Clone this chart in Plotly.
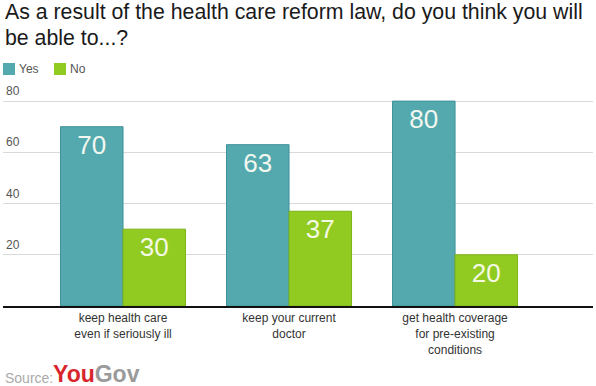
import plotly.graph_objects as go

categories = ["keep health care<br>even if seriously ill",
              "keep your current<br>doctor",
              "get health coverage<br>for pre-existing<br>conditions"]
yes_values = [70, 63, 80]
no_values = [30, 37, 20]
series_names = ["Yes", "No"]
y_ticks = [20, 40, 60, 80]
title_lines = ["As a result of the health care reform law, do you think you will",
               "be able to...?"]

W, H = 596, 386
ML, MR, MT, MB = 3, 3, 96, 80
PW, PH = W - ML - MR, H - MT - MB

def px(x):
    return (x - ML) / PW

def py(y):
    return (H - MB - y) / PH

TEAL = "#53a9ae"
GREEN = "#91cb21"

fig = go.Figure()
fig.add_trace(go.Bar(x=categories, y=yes_values, name=series_names[0],
                     marker=dict(color=TEAL, line=dict(color="#3d9298", width=1)),
                     text=[str(v) for v in yes_values], textposition="inside",
                     insidetextanchor="end",
                     insidetextfont=dict(family="Liberation Sans", size=26, color="#f2f7f0")))
fig.add_trace(go.Bar(x=categories, y=no_values, name=series_names[1],
                     marker=dict(color=GREEN, line=dict(color="#7db318", width=1)),
                     text=[str(v) for v in no_values], textposition="inside",
                     insidetextanchor="end",
                     insidetextfont=dict(family="Liberation Sans", size=26, color="#f4f9e4")))

annotations = []
for line, yc in zip(title_lines, [12, 37.5]):
    annotations.append(dict(text=line, xref="paper", yref="paper", x=px(4), y=py(yc),
                            xanchor="left", yanchor="middle", align="left", showarrow=False,
                            borderpad=0,
                            font=dict(family="Liberation Sans", size=21.3, color="#1a1a1a")))
# legend
shapes = []
for i, (name, col) in enumerate(zip(series_names, [TEAL, GREEN])):
    x0 = 3 + i * 51
    shapes.append(dict(type="rect", xref="paper", yref="paper", x0=px(x0), x1=px(x0 + 12),
                       y0=py(75), y1=py(63), fillcolor=col, line=dict(width=0)))
    annotations.append(dict(text=name, xref="paper", yref="paper", x=px(x0 + 14), y=py(69),
                            xanchor="left", yanchor="middle", showarrow=False,
                            font=dict(family="Liberation Sans", size=12, color="#555555")))
for t in y_ticks:
    annotations.append(dict(text=str(t), xref="paper", yref="y", x=px(4), y=t,
                            xanchor="left", yanchor="bottom", yshift=1, showarrow=False,
                            font=dict(family="Liberation Sans", size=12, color="#555555")))
annotations.append(dict(text="Source:", xref="paper", yref="paper", x=px(3), y=py(377.5),
                        xanchor="left", yanchor="middle", showarrow=False,
                        font=dict(family="Liberation Sans", size=14, color="#aaaaaa")))
annotations.append(dict(text="<b><span style='color:#d8262c'>You</span>"
                             "<span style='color:#9a9a9a'>Gov</span></b>",
                        xref="paper", yref="paper", x=px(51), y=py(374),
                        xanchor="left", yanchor="middle", showarrow=False,
                        font=dict(family="Liberation Sans", size=23, color="#9a9a9a")))

fig.update_layout(
    width=W, height=H, margin=dict(l=ML, r=MR, t=MT, b=MB),
    paper_bgcolor="white", plot_bgcolor="white",
    barmode="group", bargap=0.247, bargroupgap=0,
    showlegend=False, annotations=annotations, shapes=shapes,
    xaxis=dict(type="category", range=[-0.723, 2.831], showgrid=False,
               showline=True, linecolor="#111111", linewidth=2, ticks="",
               tickfont=dict(family="Liberation Sans", size=12, color="#333333")),
    yaxis=dict(range=[0, 82], tickvals=y_ticks, showticklabels=False,
               showgrid=True, gridcolor="#dadada", gridwidth=1, zeroline=False),
)
fig.write_html("out.html", config={"displayModeBar": False},
               post_script="document.body.style.margin='0';document.body.style.overflow='hidden';")
